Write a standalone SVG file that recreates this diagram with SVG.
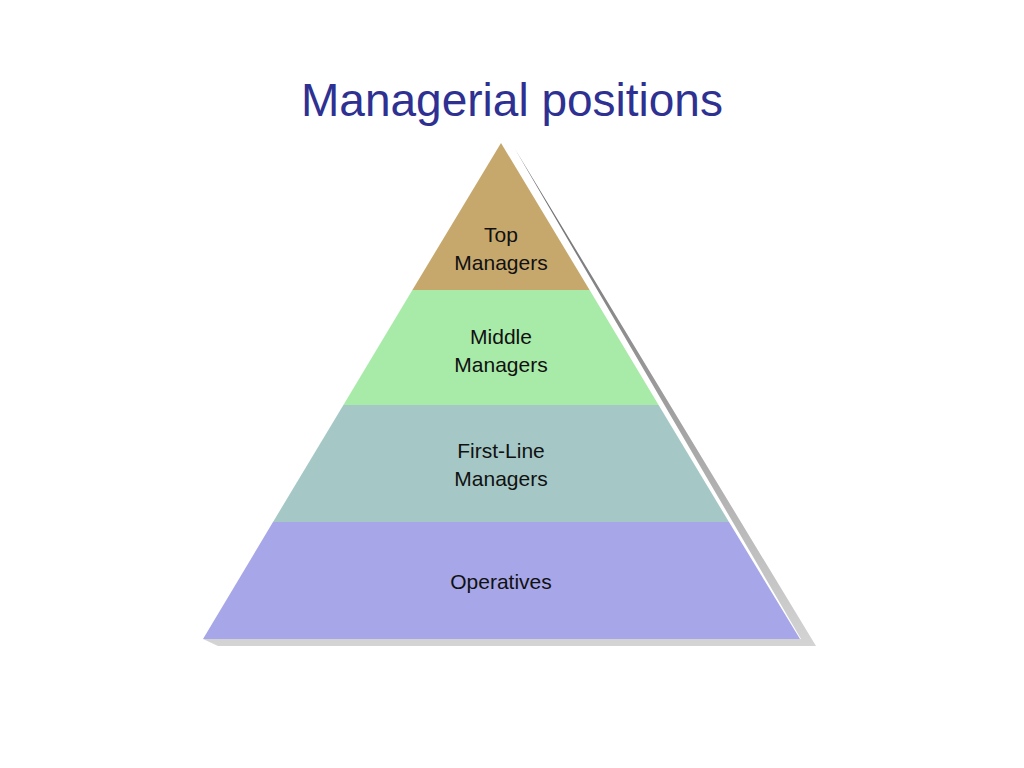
<svg xmlns="http://www.w3.org/2000/svg" width="1024" height="768" viewBox="0 0 1024 768">
<style>
.lbl{font-family:"Liberation Sans",Arial,sans-serif;font-size:21px;fill:#111;text-anchor:middle}
</style>
<defs>
<linearGradient id="sh" x1="0" y1="0" x2="0" y2="1">
<stop offset="0" stop-color="#666"/>
<stop offset="1" stop-color="#d4d4d4"/>
</linearGradient>
</defs>
<rect width="1024" height="768" fill="#fff"/>
<text x="512" y="116" font-family="'Liberation Sans',Arial,sans-serif" font-size="46" fill="#2e3192" text-anchor="middle">Managerial positions</text>
<polygon points="515,149 816,646 218,646 203,639 801,639" fill="url(#sh)"/>
<g id="top"><polygon points="501,143 589.6,290 412.4,290" fill="#c6a86c"/>
<text class="lbl" x="501" y="242">Top</text><text class="lbl" x="501" y="270">Managers</text></g>
<g id="middle"><polygon points="412.4,290 589.6,290 658.6,405 343.4,405" fill="#a8eaa8"/>
<text class="lbl" x="501" y="344">Middle</text><text class="lbl" x="501" y="372">Managers</text></g>
<g id="firstline"><polygon points="343.4,405 658.6,405 729,522 273,522" fill="#a5c8c6"/>
<text class="lbl" x="501" y="458">First-Line</text><text class="lbl" x="501" y="486">Managers</text></g>
<g id="operatives"><polygon points="273,522 729,522 800,639 203,639" fill="#a6a6e8"/>
<text class="lbl" x="501" y="589">Operatives</text></g>
<g id="connectors"/>
</svg>
